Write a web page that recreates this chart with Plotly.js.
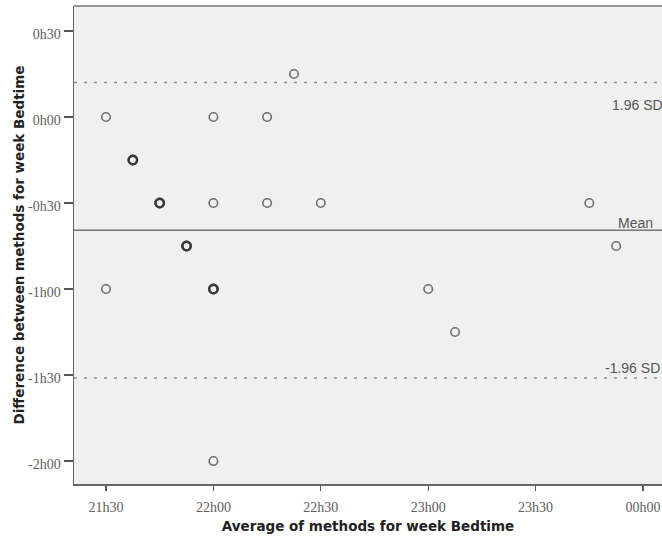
<!DOCTYPE html>
<html>
<head>
<meta charset="utf-8">
<script src="https://cdn.plot.ly/plotly-3.0.1.min.js"></script>
<style>
  html, body { margin: 0; padding: 0; background: #ffffff; }
  #chart { width: 662px; height: 538px; }
</style>
</head>
<body>
<div id="chart"></div>
<script>
// Bland-Altman plot: week bedtime, two measurement methods.
// Averages are minutes after 21h00, differences are minutes.
const avgMinutes = [30, 37.5, 37.5, 45, 45, 52.5, 52.5, 30, 60, 60, 60, 60, 60, 75, 75, 82.5, 90, 120, 127.5, 165, 172.5];
const diffMinutes = [0, -15, -15, -30, -30, -45, -45, -60, 0, -30, -60, -60, -120, 0, -30, 15, -30, -60, -75, -30, -45];

// Mean difference and limits of agreement (mean ± 1.96 SD)
const meanDiff = -39.5;
const upperLimit = 12;
const lowerLimit = -91;
const limitLabels = ['1.96 SD', 'Mean', '-1.96 SD'];

const xTickVals = [30, 60, 90, 120, 150, 180];
const xTickText = ['21h30', '22h00', '22h30', '23h00', '23h30', '00h00'];
const yTickVals = [30, 0, -30, -60, -90, -120];
const yTickText = ['0h30', '0h00', '-0h30', '-1h00', '-1h30', '-2h00'];

// Coincident points are drawn with a heavier outline
const counts = {};
avgMinutes.forEach((x, i) => {
  const k = x + '|' + diffMinutes[i];
  counts[k] = (counts[k] || 0) + 1;
});
const isDup = avgMinutes.map((x, i) => counts[x + '|' + diffMinutes[i]] > 1);
const lineWidths = isDup.map(d => d ? 2.3 : 1.6);
const lineColors = isDup.map(d => d ? '#3a3a3a' : '#6e6e6e');

const trace = {
  type: 'scatter',
  mode: 'markers',
  x: avgMinutes,
  y: diffMinutes,
  marker: {
    symbol: 'circle-open',
    size: 8.5,
    color: lineColors,
    line: { width: lineWidths, color: lineColors }
  },
  hoverinfo: 'x+y',
  showlegend: false
};

const tickFont = { family: 'Liberation Serif, Times New Roman, serif', size: 14, color: '#5e5e5e' };
const titleFont = { family: 'DejaVu Sans, Verdana, sans-serif', size: 13.5, color: '#222222', weight: 'bold' };
const labelFont = { family: 'Liberation Sans, Arial, sans-serif', size: 14, color: '#555555' };

const layout = {
  width: 662,
  height: 538,
  margin: { l: 74, r: 0, t: 6, b: 54 },
  paper_bgcolor: '#ffffff',
  plot_bgcolor: '#f0f0f0',
  xaxis: {
    range: [21.06, 185.3],
    tickvals: xTickVals,
    ticktext: xTickText,
    tickfont: tickFont,
    ticks: 'outside',
    ticklen: 5,
    tickwidth: 1.2,
    tickcolor: '#555555',
    ticklabelstandoff: 5,
    showgrid: false,
    zeroline: false,
    showline: true,
    linecolor: '#666666',
    linewidth: 1.5,
    title: { text: 'Average of methods for week Bedtime', font: titleFont, standoff: 7 }
  },
  yaxis: {
    range: [-128, 38.7],
    tickvals: yTickVals,
    ticktext: yTickText,
    tickfont: tickFont,
    ticks: 'outside',
    ticklen: 9,
    tickwidth: 1.2,
    tickcolor: '#555555',
    ticklabelshift: 3,
    showgrid: false,
    zeroline: false,
    showline: true,
    linecolor: '#666666',
    linewidth: 1.5,
    title: { text: 'Difference between methods for week Bedtime', font: titleFont, standoff: 0 }
  },
  shapes: [
    // top edge of the frame
    { type: 'line', xref: 'paper', x0: 0, x1: 1, yref: 'paper', y0: 1, y1: 1,
      line: { color: '#777777', width: 1.5 } },
    { type: 'line', xref: 'paper', x0: 0, x1: 1, yref: 'y', y0: upperLimit, y1: upperLimit,
      line: { color: '#8a8a8a', width: 1.5, dash: '3px,7px' } },
    { type: 'line', xref: 'paper', x0: 0, x1: 1, yref: 'y', y0: meanDiff, y1: meanDiff,
      line: { color: '#777777', width: 1.6 } },
    { type: 'line', xref: 'paper', x0: 0, x1: 1, yref: 'y', y0: lowerLimit, y1: lowerLimit,
      line: { color: '#8a8a8a', width: 1.5, dash: '3px,7px' } }
  ],
  annotations: [
    { xref: 'paper', x: 0.912, yref: 'y', y: upperLimit, yshift: -22, xanchor: 'left', yanchor: 'middle',
      text: limitLabels[0], showarrow: false, font: labelFont },
    { xref: 'paper', x: 0.922, yref: 'y', y: meanDiff, yshift: 7, xanchor: 'left', yanchor: 'middle',
      text: limitLabels[1], showarrow: false, font: labelFont },
    { xref: 'paper', x: 0.900, yref: 'y', y: lowerLimit, yshift: 10, xanchor: 'left', yanchor: 'middle',
      text: limitLabels[2], showarrow: false, font: labelFont }
  ]
};

Plotly.newPlot('chart', [trace], layout, { displayModeBar: false, staticPlot: true });
</script>
</body>
</html>
